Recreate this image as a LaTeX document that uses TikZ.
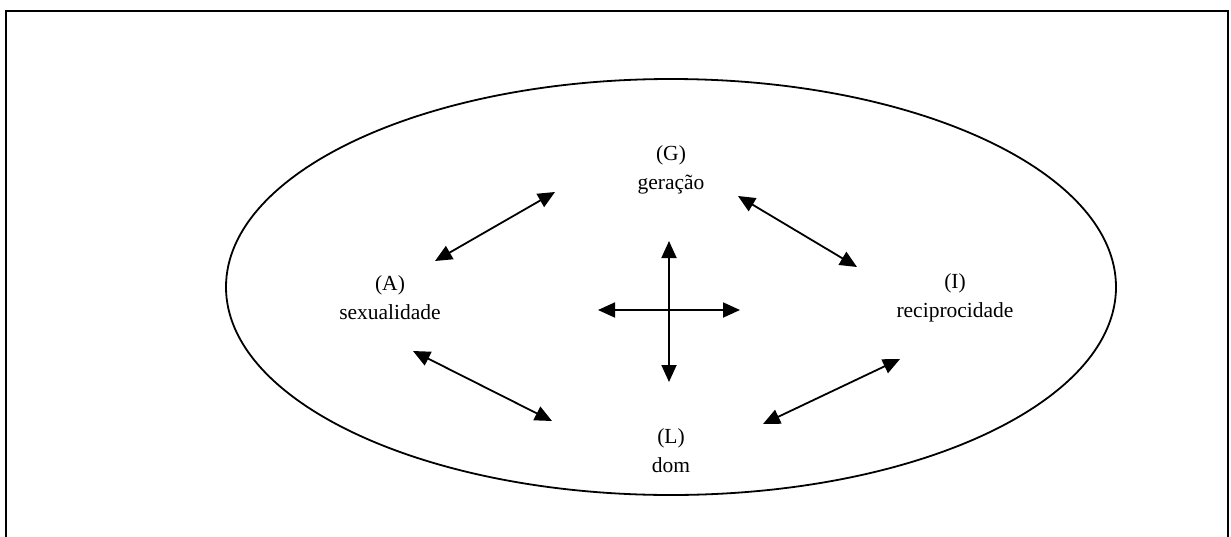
\documentclass[tikz,border=0pt]{standalone}
\usepackage{fontspec}
\setmainfont{Liberation Serif}
\usetikzlibrary{arrows.meta}
\begin{document}
\begin{tikzpicture}[x=1pt,y=-1pt,
  lbl/.style={align=center,font=\fontsize{21.5}{29}\selectfont,inner sep=0pt},
  dbl/.style={line width=1.8pt,{Triangle[length=17pt,width=15pt]}-{Triangle[length=17pt,width=15pt]}}]
\useasboundingbox (0,0) rectangle (1231,536);
% frame (open at bottom)
\draw[line width=1.8pt] (6,540) -- (6,11) -- (1228,11) -- (1228,540);
% ellipse
\draw[line width=1.8pt] (671,287) ellipse [x radius=445, y radius=208];
% labels
\node[lbl] (G) at (671,170) {(G)\\geração};
\node[lbl] (A) at (390,298) {(A)\\sexualidade};
\node[lbl] (I) at (955,298) {(I)\\reciprocidade};
\node[lbl] (L) at (671,451) {(L)\\dom};
% arrow end points
\coordinate (ag1) at (435,261);
\coordinate (ag2) at (555,192);
\coordinate (gi1) at (738,196);
\coordinate (gi2) at (857,267);
\coordinate (al1) at (413,351);
\coordinate (al2) at (552,421);
\coordinate (li1) at (763,424);
\coordinate (li2) at (900,359);
\coordinate (vt) at (669,241);
\coordinate (vb) at (669,382);
\coordinate (hl) at (598,310);
\coordinate (hr) at (740,310);
\draw[dbl] (ag1) -- (ag2);
\draw[dbl] (gi1) -- (gi2);
\draw[dbl] (al1) -- (al2);
\draw[dbl] (li1) -- (li2);
\draw[dbl] (vt) -- (vb);
\draw[dbl] (hl) -- (hr);
\end{tikzpicture}
\end{document}
